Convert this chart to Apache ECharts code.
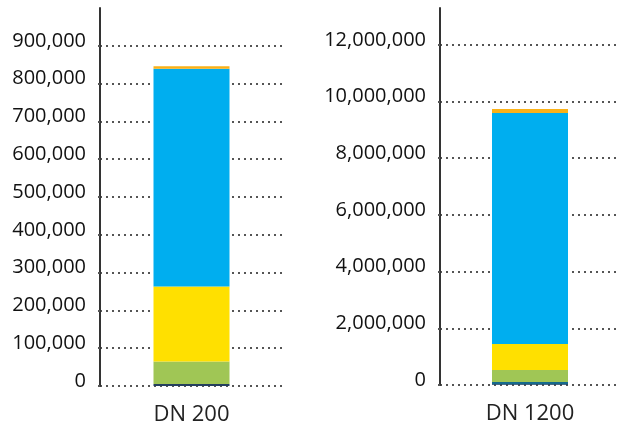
<!DOCTYPE html>
<html>
<head>
<meta charset="utf-8">
<script src="https://cdn.jsdelivr.net/npm/echarts@6/dist/echarts.min.js"></script>
<style>
  html, body { margin: 0; padding: 0; background: #fff; }
  #chart { width: 622px; height: 432px; }
</style>
</head>
<body>
<div id="chart"></div>
<script>
// one bar per panel, stacked from bottom to top
const categories = ['DN 200', 'DN 1200']
const navyValues = [5000, 25000]
const tealValues = [0, 80000]
const greenValues = [60000, 423000]
const yellowValues = [198000, 917000]
const blueValues = [576000, 8148000]
const orangeValues = [7000, 141000]

const axisMax = [1000000, 13300000]
const axisInterval = [100000, 2000000]

const layers = [
  { values: navyValues, color: '#243f5e' },
  { values: tealValues, color: '#16698c' },
  { values: greenValues, color: '#a0c655' },
  { values: yellowValues, color: '#ffe000' },
  { values: blueValues, color: '#00aeef' },
  { values: orangeValues, color: '#fbb117' }
]

const font = '"Open Sans", "Noto Sans", sans-serif'

function withCommas(v) {
  return String(v).replace(/\B(?=(\d{3})+(?!\d))/g, ',')
}

// split line colours: the one at the axis top is hidden
function splitColors(i) {
  const n = Math.ceil(axisMax[i] / axisInterval[i])
  const arr = []
  for (let k = 0; k < n; k++) arr.push('#555')
  arr.push('rgba(0,0,0,0)')
  return arr
}

const grids = [
  { left: 100, right: 339, top: 8, bottom: 46 },
  { left: 440, right: 2, top: 8, bottom: 47 }
]

const xAxes = categories.map((c, i) => ({
  type: 'category',
  gridIndex: i,
  data: [c],
  axisLine: { show: false },
  axisTick: { show: false },
  axisLabel: { fontFamily: font, fontSize: 22, color: '#222', margin: 18 }
}))

const yAxes = categories.map((c, i) => ({
  type: 'value',
  gridIndex: i,
  min: 0,
  max: axisMax[i],
  interval: axisInterval[i],
  axisLine: { show: true, lineStyle: { color: '#333', width: 2 } },
  axisTick: { show: true, length: 4, lineStyle: { color: '#555', width: 2, type: [2, 4] } },
  axisLabel: {
    showMaxLabel: false,
    fontFamily: font,
    fontSize: 20,
    color: '#111',
    margin: 14,
    verticalAlign: 'bottom',
    lineHeight: 10,
    formatter: withCommas
  },
  splitLine: {
    show: true,
    lineStyle: { color: splitColors(i), width: 2, type: [2, 4] }
  }
}))

const series = []
categories.forEach((c, i) => {
  layers.forEach(layer => {
    series.push({
      type: 'bar',
      xAxisIndex: i,
      yAxisIndex: i,
      stack: 'panel' + i,
      barWidth: 76,
      itemStyle: { color: layer.color },
      data: [layer.values[i]]
    })
  })
})

const chart = echarts.init(document.getElementById('chart'))
chart.setOption({
  backgroundColor: '#fff',
  animation: false,
  grid: grids,
  xAxis: xAxes,
  yAxis: yAxes,
  series: series
})
</script>
</body>
</html>
